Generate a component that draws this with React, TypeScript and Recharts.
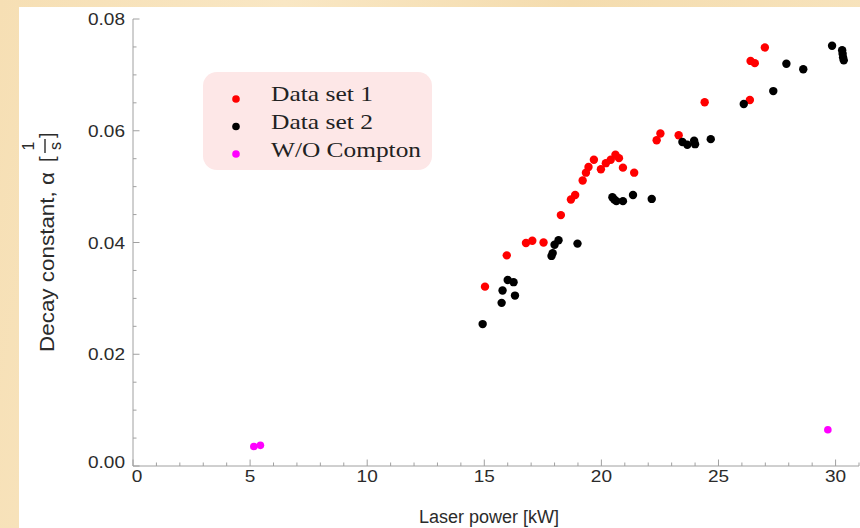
import React from 'react';
import { ScatterChart, Scatter, XAxis, YAxis, Legend } from 'recharts';

// Measured decay constants (1/s) against laser power (kW)
const dataSet1 = [
  { x: 15.03, y: 0.0321 },
  { x: 15.96, y: 0.0377 },
  { x: 16.78, y: 0.0399 },
  { x: 17.05, y: 0.0403 },
  { x: 17.53, y: 0.04 },
  { x: 18.27, y: 0.0449 },
  { x: 18.7, y: 0.0477 },
  { x: 18.88, y: 0.0485 },
  { x: 19.2, y: 0.0511 },
  { x: 19.34, y: 0.0525 },
  { x: 19.45, y: 0.0535 },
  { x: 19.68, y: 0.0548 },
  { x: 19.98, y: 0.0531 },
  { x: 20.19, y: 0.0542 },
  { x: 20.4, y: 0.0548 },
  { x: 20.6, y: 0.0557 },
  { x: 20.75, y: 0.0551 },
  { x: 20.92, y: 0.0534 },
  { x: 21.4, y: 0.0525 },
  { x: 22.36, y: 0.0583 },
  { x: 22.52, y: 0.0595 },
  { x: 23.3, y: 0.0592 },
  { x: 24.41, y: 0.0651 },
  { x: 26.34, y: 0.0655 },
  { x: 26.37, y: 0.0725 },
  { x: 26.55, y: 0.0721 },
  { x: 26.98, y: 0.0749 },
];

const dataSet2 = [
  { x: 14.93, y: 0.0254 },
  { x: 15.74, y: 0.0292 },
  { x: 15.78, y: 0.0314 },
  { x: 16.0, y: 0.0333 },
  { x: 16.25, y: 0.0329 },
  { x: 16.31, y: 0.0305 },
  { x: 17.87, y: 0.0376 },
  { x: 17.92, y: 0.0381 },
  { x: 18.0, y: 0.0396 },
  { x: 18.17, y: 0.0404 },
  { x: 18.98, y: 0.0398 },
  { x: 20.47, y: 0.0481 },
  { x: 20.55, y: 0.0477 },
  { x: 20.64, y: 0.0474 },
  { x: 20.92, y: 0.0474 },
  { x: 21.35, y: 0.0485 },
  { x: 22.15, y: 0.0478 },
  { x: 23.46, y: 0.058 },
  { x: 23.67, y: 0.0575 },
  { x: 23.96, y: 0.0582 },
  { x: 24.0, y: 0.0576 },
  { x: 24.67, y: 0.0585 },
  { x: 26.08, y: 0.0648 },
  { x: 27.34, y: 0.0671 },
  { x: 27.9, y: 0.072 },
  { x: 28.62, y: 0.071 },
  { x: 29.85, y: 0.0752 },
  { x: 30.28, y: 0.0744 },
  { x: 30.3, y: 0.0738 },
  { x: 30.32, y: 0.0731 },
  { x: 30.35, y: 0.0726 },
];

const withoutCompton = [
  { x: 5.16, y: 0.0035 },
  { x: 5.44, y: 0.0037 },
  { x: 29.67, y: 0.0065 },
];

const xDomain = [0, 31];
const yDomain = [0, 0.08];
const xMajorStep = 5;
const yMajorStep = 0.02;
const xTicks = [
  0, 1, 2, 3, 4, 5, 6, 7, 8, 9, 10, 11, 12, 13, 14, 15, 16, 17, 18, 19, 20,
  21, 22, 23, 24, 25, 26, 27, 28, 29, 30, 31,
];
const yTicks = [
  0, 0.005, 0.01, 0.015, 0.02, 0.025, 0.03, 0.035, 0.04, 0.045, 0.05, 0.055,
  0.06, 0.065, 0.07, 0.075, 0.08,
];

const FRAME = '#a0a0a0';
const SANS = '"Liberation Sans", Arial, Helvetica, sans-serif';
const SERIF = '"Liberation Serif", "Times New Roman", serif';
const TEXT = '#2b2b2b';
const MAJOR_LEN = 6.5;
const MINOR_LEN = 3.5;

const isMultiple = (v: number, step: number) =>
  Math.abs(v / step - Math.round(v / step)) < 1e-6;

const Dot = (props: any) => {
  const { cx, cy, fill } = props;
  if (cx == null || cy == null) return null;
  return <circle cx={cx} cy={cy} r={4.2} fill={fill} />;
};

const SmallDot = (props: any) => {
  const { cx, cy, fill } = props;
  if (cx == null || cy == null) return null;
  return <circle cx={cx} cy={cy} r={3.8} fill={fill} />;
};

// Frame ticks point into the plot; majors carry labels on bottom/left.
const BottomTick = (props: any) => {
  const { x, y, payload } = props;
  const major = isMultiple(payload.value, xMajorStep);
  const nudge = payload.value === 0 ? 4 : 0;
  return (
    <g>
      <line x1={x} y1={y} x2={x} y2={y - (major ? MAJOR_LEN : MINOR_LEN)} stroke={FRAME} />
      {major && (
        <text
          transform={`translate(${x + nudge},${y + 4}) scale(1.12,1)`}
          textAnchor="middle"
          dy="0.71em"
          fontSize={17}
          fontFamily={SANS}
          fill={TEXT}
        >
          {payload.value}
        </text>
      )}
    </g>
  );
};

const TopTick = (props: any) => {
  const { x, y, payload } = props;
  const major = isMultiple(payload.value, xMajorStep);
  return <line x1={x} y1={y} x2={x} y2={y + (major ? MAJOR_LEN : MINOR_LEN)} stroke={FRAME} />;
};

const LeftTick = (props: any) => {
  const { x, y, payload } = props;
  const major = isMultiple(payload.value, yMajorStep);
  const nudge = payload.value === 0 ? -4 : 0;
  return (
    <g>
      <line x1={x} y1={y} x2={x + (major ? MAJOR_LEN : MINOR_LEN)} y2={y} stroke={FRAME} />
      {major && (
        <text
          transform={`translate(${x - 8},${y + nudge}) scale(1.12,1)`}
          textAnchor="end"
          dy="0.355em"
          fontSize={17}
          fontFamily={SANS}
          fill={TEXT}
        >
          {Number(payload.value).toFixed(2)}
        </text>
      )}
    </g>
  );
};

const RightTick = (props: any) => {
  const { x, y, payload } = props;
  const major = isMultiple(payload.value, yMajorStep);
  return <line x1={x} y1={y} x2={x - (major ? MAJOR_LEN : MINOR_LEN)} y2={y} stroke={FRAME} />;
};

const XTitle = () => (
  <text
    x={489}
    y={523}
    textAnchor="middle"
    fontSize={18}
    fontFamily={SANS}
    fill={TEXT}
  >
    Laser power [kW]
  </text>
);

// Rotated y title with a stacked 1/s fraction inside brackets
const YTitle = () => (
  <g transform="translate(54, 352) rotate(-90)" fontFamily={SANS} fill={TEXT}>
    <text x={0} y={0} fontSize={20} textLength={180} lengthAdjust="spacingAndGlyphs">
      Decay constant, α
    </text>
    <text x={190} y={0} fontSize={20}>
      [
    </text>
    <line x1={199} y1={-9} x2={213} y2={-9} stroke={TEXT} strokeWidth={1.4} />
    <text x={206} y={-20} fontSize={16} textAnchor="middle">
      1
    </text>
    <text x={206} y={7} fontSize={16} textAnchor="middle">
      s
    </text>
    <text x={214} y={0} fontSize={20}>
      ]
    </text>
  </g>
);

const LegendBox = (props: any) => {
  const { payload = [] } = props;
  const widths = [102, 102, 150];
  return (
    <svg width={229} height={98} style={{ display: 'block' }}>
      <rect x={0} y={0} width={229} height={98} rx={14} ry={14} fill="#fde7e7" />
      {payload.map((entry: any, i: number) => (
        <g key={entry.value}>
          <circle cx={33} cy={27 + i * 27.5} r={3.8} fill={entry.color} />
          <text
            x={68}
            y={29 + i * 28}
            fontSize={21}
            fontFamily={SERIF}
            fill="#222"
            textLength={widths[i]}
            lengthAdjust="spacingAndGlyphs"
          >
            {entry.value}
          </text>
        </g>
      ))}
    </svg>
  );
};

export default function App() {
  return (
    <div
      style={{
        position: 'absolute',
        left: 0,
        top: 0,
        width: 860,
        height: 528,
        overflow: 'hidden',
        background:
          'linear-gradient(100deg, #f6dfb4 0%, #f9e7c4 30%, #f4dcae 60%, #f8e5c0 100%)',
      }}
    >
      <div
        style={{
          position: 'absolute',
          left: 19,
          top: 7,
          right: 0,
          bottom: 0,
          background: '#ffffff',
        }}
      />
      <div style={{ position: 'absolute', left: 0, top: 0 }}>
        <ScatterChart
          width={860}
          height={528}
          margin={{ top: 19, right: 1, bottom: 0, left: 0 }}
        >
          <XAxis
            xAxisId="top"
            orientation="top"
            type="number"
            domain={xDomain}
            allowDataOverflow
            ticks={xTicks}
            interval={0}
            mirror
            height={0}
            tickSize={0}
            tickMargin={0}
            tickLine={false}
            tick={<TopTick />}
            axisLine={{ stroke: FRAME }}
          />
          <YAxis
            yAxisId="right"
            orientation="right"
            type="number"
            domain={yDomain}
            allowDataOverflow
            ticks={yTicks}
            interval={0}
            mirror
            width={0}
            tickSize={0}
            tickMargin={0}
            tickLine={false}
            tick={<RightTick />}
            axisLine={{ stroke: FRAME }}
          />
          <XAxis
            xAxisId="x"
            dataKey="x"
            type="number"
            domain={xDomain}
            allowDataOverflow
            ticks={xTicks}
            interval={0}
            height={62}
            tickSize={0}
            tickMargin={0}
            tickLine={false}
            axisLine={{ stroke: FRAME }}
            tick={<BottomTick />}
            label={<XTitle />}
          />
          <YAxis
            yAxisId="y"
            dataKey="y"
            type="number"
            domain={yDomain}
            allowDataOverflow
            ticks={yTicks}
            interval={0}
            width={133}
            tickSize={0}
            tickMargin={0}
            tickLine={false}
            axisLine={{ stroke: FRAME }}
            tick={<LeftTick />}
            label={<YTitle />}
          />
          <Legend
            layout="vertical"
            align="center"
            verticalAlign="middle"
            wrapperStyle={{ left: 203, top: 72, width: 229, height: 98 }}
            content={<LegendBox />}
          />
          <Scatter
            name="Data set 1"
            data={dataSet1}
            xAxisId="x"
            yAxisId="y"
            fill="#ff0000"
            shape={<Dot />}
            isAnimationActive={false}
          />
          <Scatter
            name="Data set 2"
            data={dataSet2}
            xAxisId="x"
            yAxisId="y"
            fill="#000000"
            shape={<Dot />}
            isAnimationActive={false}
          />
          <Scatter
            name="W/O Compton"
            data={withoutCompton}
            xAxisId="x"
            yAxisId="y"
            fill="#ff00ff"
            shape={<SmallDot />}
            isAnimationActive={false}
          />
        </ScatterChart>
      </div>
    </div>
  );
}
